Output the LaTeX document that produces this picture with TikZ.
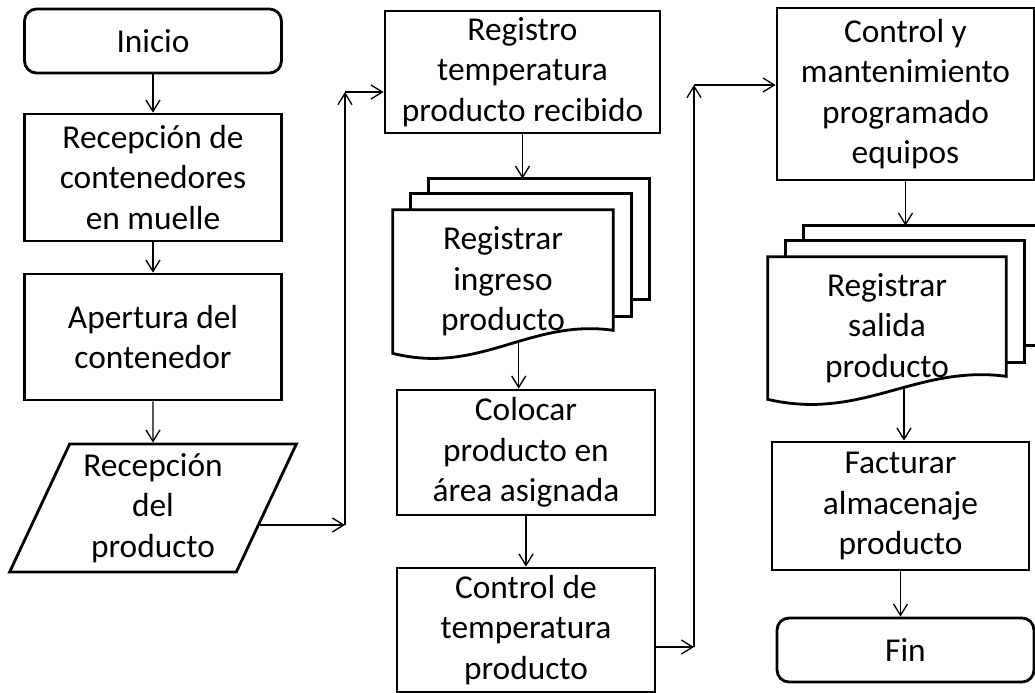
\documentclass[tikz,border=0pt]{standalone}
\usepackage{fontspec}
\setmainfont{Carlito}
\usetikzlibrary{shapes.geometric,arrows.meta,calc,backgrounds}

\tikzset{
  caja/.style={draw, line width=1.6pt, align=center, minimum width=5.14cm,
    inner sep=2pt, font=\fontsize{19}{23}\selectfont},
  term/.style={caja, rounded corners=0.24cm, minimum height=1.28cm},
  datos/.style={draw, line width=1.6pt, align=center, trapezium,
    trapezium left angle=65.6, trapezium right angle=114.4,
    trapezium stretches=true, minimum width=5.74cm, minimum height=2.56cm,
    inner sep=2pt, font=\fontsize{19}{23}\selectfont},
  doc/.style={align=center, inner sep=2pt, font=\fontsize{19}{23}\selectfont},
  hoja/.style={draw, line width=1.6pt, fill=white},
  flecha/.style={-{Straight Barb[length=6.5pt,width=8pt]}, line width=0.75pt},
}

% pila de documentos detras del nodo #1
\newcommand\pilahojas[1]{%
  \begin{scope}[on background layer]
    \draw[hoja] ($(#1.north west)+(36,-31)$) coordinate (#1-top)
      rectangle ($(#1.south east)+(36,-54)$);
    \draw[hoja] ($(#1.north west)+(18,-16)$) rectangle ($(#1.south east)+(18,-37)$);
    \draw[hoja] (#1.north west) -- (#1.north east) -- ($(#1.south east)+(0,-23)$)
      .. controls ($(#1.south west)!0.623!(#1.south east)+(0,-35)$)
      and ($(#1.south west)!0.395!(#1.south east)+(0,22)$) .. (#1.south west)
      coordinate[pos=0.43] (#1-bot) -- cycle;
  \end{scope}}

\begin{document}
\begin{tikzpicture}[x=0.02cm, y=-0.02cm]
  \useasboundingbox (0,0) rectangle (1035,693);

  % columna 1
  \node[term] (inicio) at (153,41) {Inicio};
  \node[caja, minimum height=2.54cm] (recep) at (153,177.5) {Recepción de\\contenedores\\en muelle};
  \node[caja, minimum height=2.52cm] (apert) at (153,337) {Apertura del\\contenedor};
  \node[datos] (recprod) at (153,508) {Recepción\\del\\producto};

  % columna 2
  \node[caja, minimum width=5.5cm, minimum height=2.44cm] (regtemp) at (522.5,72) {Registro\\temperatura\\producto recibido};
  \node[doc, minimum width=4.4cm, minimum height=2.86cm] (regin) at (503,281.5) {Registrar\\ingreso\\producto};
  \pilahojas{regin}
  \node[caja, minimum width=5.16cm, minimum height=2.5cm] (coloc) at (526,452.5) {Colocar\\producto en\\área asignada};
  \node[caja, minimum width=5.16cm, minimum height=2.48cm] (ctemp) at (526,630) {Control de\\temperatura\\producto};

  % columna 3
  \node[caja, minimum height=3.44cm] (ctrlman) at (905.5,94) {Control y\\mantenimiento\\programado\\equipos};
  \node[doc, minimum width=4.76cm, minimum height=2.84cm] (regsal) at (887,328) {Registrar\\salida\\producto};
  \pilahojas{regsal}
  \node[caja, minimum height=2.56cm] (factura) at (900.5,506) {Facturar\\almacenaje\\producto};
  \node[term] (fin) at (905.5,650) {Fin};

  \coordinate (s1) at ($(recprod.bottom right corner)!0.37!(recprod.top right corner)$);
  \coordinate (e1) at (345,525);
  \coordinate (e2) at (345,92);
  \coordinate (e3) at (694,647);
  \coordinate (e4) at (694,85);

  \draw[flecha] (inicio) -- (recep);
  \draw[flecha] (recep) -- (apert);
  \draw[flecha] (apert) -- (recprod);
  \draw[flecha] (s1) -- (s1 -| e1);
  \draw[flecha] (s1 -| e1) -- (e2);
  \draw[flecha] (e2) -- (e2 -| regtemp.west);
  \draw[flecha] (regtemp.south) -- (regtemp.south |- regin-top);
  \draw[flecha] (regin-bot) -- (regin-bot |- coloc.north);
  \draw[flecha] (coloc) -- (ctemp);
  \draw[flecha] (e3 -| ctemp.east) -- (e3);
  \draw[flecha] (e3) -- (e4);
  \draw[flecha] (e4) -- (e4 -| ctrlman.west);
  \draw[flecha] (ctrlman.south) -- (ctrlman.south |- regsal-top);
  \draw[flecha] (regsal-bot) -- (regsal-bot |- factura.north);
  \draw[flecha] (factura.south) -- (factura.south |- fin.north);
\end{tikzpicture}
\end{document}
